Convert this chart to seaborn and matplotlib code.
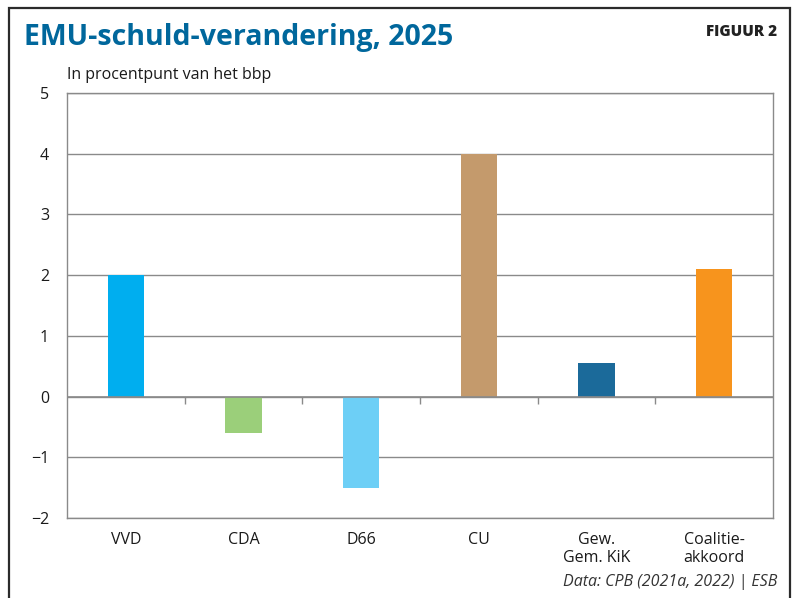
import numpy as np
import pandas as pd
import seaborn as sns
import matplotlib.pyplot as plt
from matplotlib.patches import Rectangle

# data
partijen = ["VVD", "CDA", "D66", "CU", "Gew.\nGem. KiK", "Coalitie-\nakkoord"]
schuld = [2.0, -0.6, -1.5, 4.0, 0.55, 2.1]
kleuren = ["#00AEEF", "#9BCF7A", "#6DCFF6", "#C49A6C", "#1B6A9A", "#F7941D"]
y_ticks = [-2, -1, 0, 1, 2, 3, 4, 5]

df = pd.DataFrame({"partij": partijen, "schuld": schuld})

sns.set_style("white")
plt.rcParams["font.family"] = ["Open Sans", "DejaVu Sans"]
plt.rcParams["axes.unicode_minus"] = True

grijs = "#8a8a8a"

fig = plt.figure(figsize=(7.95, 5.98), dpi=100)
ax = fig.add_axes([67 / 795, 1 - 518 / 598, (773 - 67) / 795, (518 - 93) / 598])

sns.barplot(data=df, x="partij", y="schuld", hue="partij", palette=kleuren,
            width=0.31, legend=False, ax=ax, saturation=1, linewidth=0)

n = len(partijen)
ax.set_xlim(-0.5, n - 0.5)
ax.set_ylim(y_ticks[0], y_ticks[-1])
ax.set_yticks(y_ticks)
ax.set_yticklabels([str(t).replace("-", "\u2212") for t in y_ticks])
ax.yaxis.grid(True, color=grijs, linewidth=1)
ax.set_axisbelow(True)
ax.axhline(0, color=grijs, linewidth=1.2, zorder=3)

# ticks between categories, under the axis and under the zero line
grenzen = np.arange(n + 1) - 0.5
ax.set_xticks(grenzen, minor=True)
ax.tick_params(axis="x", which="major", length=0, pad=10, labelsize=11.5, colors="#1a1a1a")
ax.tick_params(axis="x", which="minor", length=8, width=1, color=grijs, direction="out")
ax.tick_params(axis="y", length=5, width=1, color=grijs, pad=8, labelsize=11.5, labelcolor="#1a1a1a")
ax.vlines(grenzen[1:-1], -0.12, 0, color=grijs, linewidth=1, zorder=3)

for s in ax.spines.values():
    s.set_color(grijs)
    s.set_linewidth(1)

ax.set_xlabel("")
ax.set_ylabel("")

fig.text(24 / 795, 1 - 38 / 598, "EMU-schuld-verandering, 2025", fontsize=20.5,
         fontweight="bold", color="#00679C", va="center", ha="left")
fig.text(777 / 795, 1 - 32 / 598, "FIGUUR 2", fontsize=11, fontweight="heavy",
         color="#222222", va="center", ha="right")
fig.text(67 / 795, 1 - 75 / 598, "In procentpunt van het bbp", fontsize=11.5,
         color="#1a1a1a", va="center", ha="left")
fig.text(777 / 795, 1 - 582 / 598, "Data: CPB (2021a, 2022) | ESB", fontsize=11.5,
         style="italic", color="#333333", va="center", ha="right")

# frame around the figure
fig.patches.append(Rectangle((9 / 795, -0.05), (790 - 9) / 795, 1.05 - 8 / 598,
                             transform=fig.transFigure, fill=False,
                             edgecolor="#2b2b2b", linewidth=1.6))

fig.savefig("out.png", dpi=100)
